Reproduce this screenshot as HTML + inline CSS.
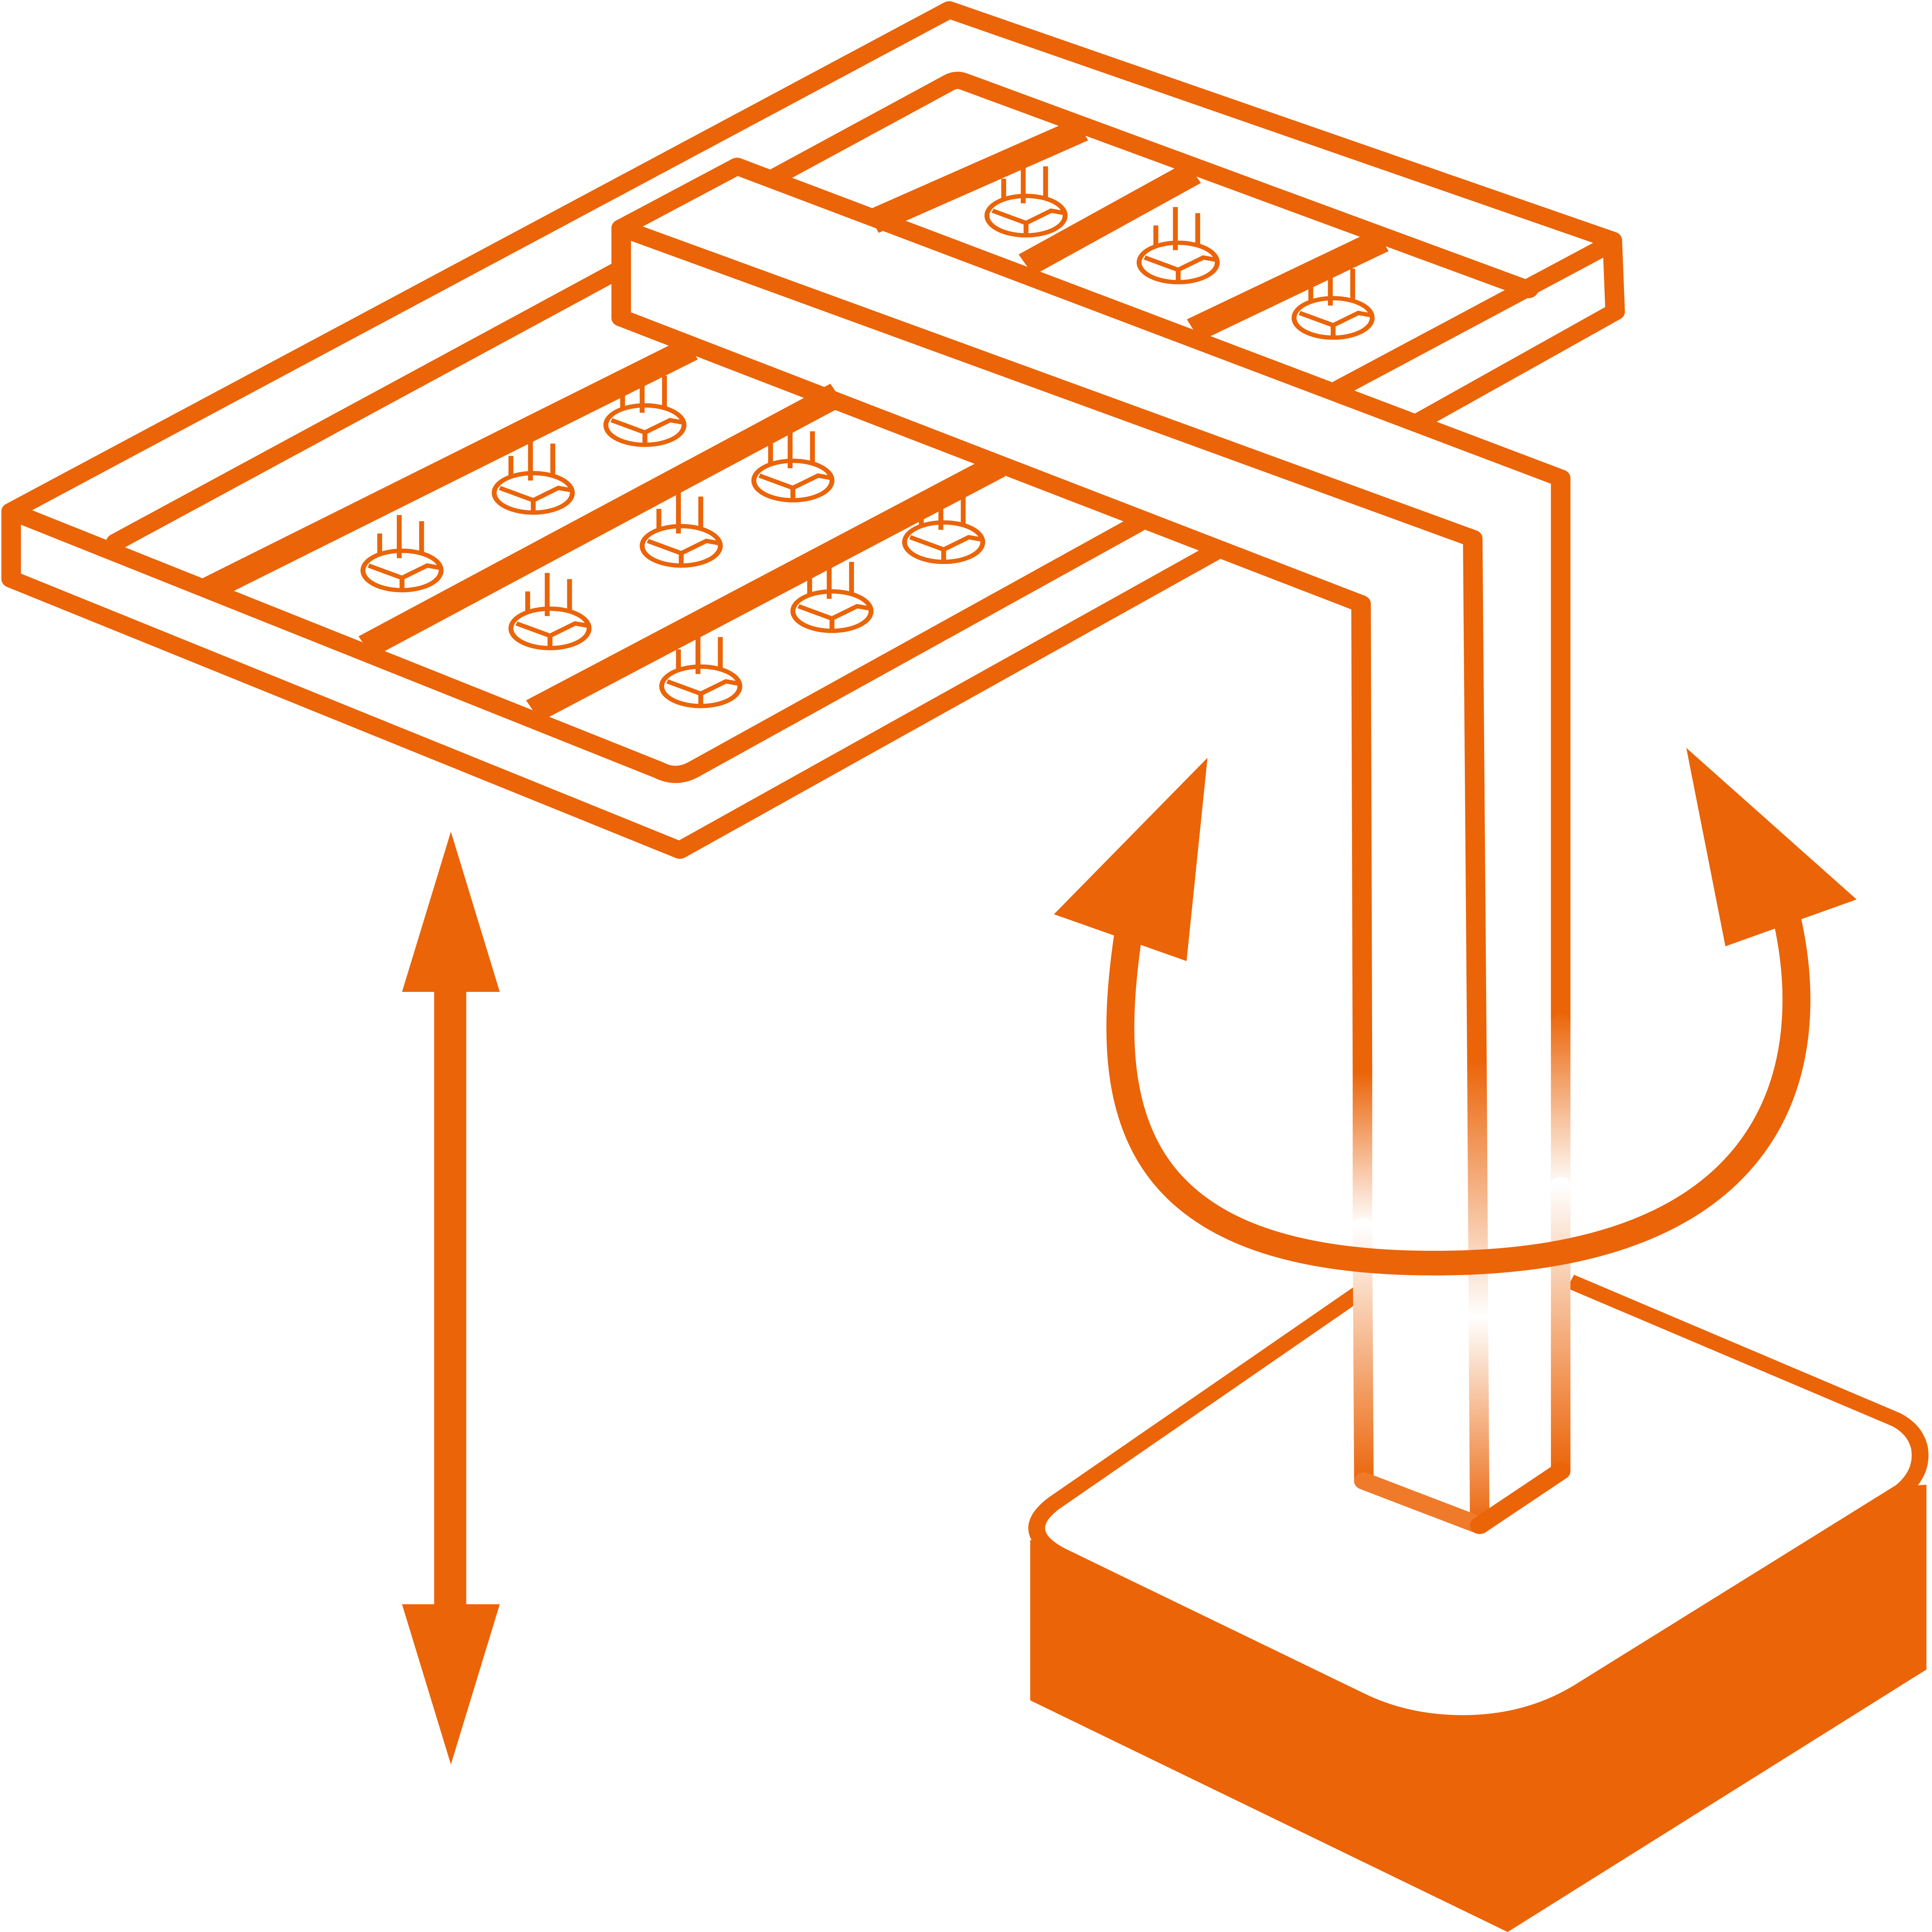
<!DOCTYPE html>
<html><head><meta charset="utf-8"><style>
html,body{margin:0;padding:0;background:#fff;width:100%;height:100%;overflow:hidden;}
svg{display:block;position:absolute;left:0;top:0;width:100vw;height:100vh;}
</style></head><body>
<svg viewBox="0 0 1384 1568" preserveAspectRatio="none" xmlns="http://www.w3.org/2000/svg">
<defs>
<linearGradient id="gL1" gradientUnits="userSpaceOnUse" x1="0" y1="870" x2="0" y2="995"><stop offset="0" stop-color="#EB6408"/><stop offset="1" stop-color="#fff"/></linearGradient>
<linearGradient id="gL2" gradientUnits="userSpaceOnUse" x1="0" y1="995" x2="0" y2="1205"><stop offset="0" stop-color="#fff"/><stop offset="1" stop-color="#EB6408"/></linearGradient>
<linearGradient id="gM" gradientUnits="userSpaceOnUse" x1="0" y1="860" x2="0" y2="1240"><stop offset="0" stop-color="#EB6408"/><stop offset="0.55" stop-color="#fff"/><stop offset="1" stop-color="#EB6408"/></linearGradient>
<linearGradient id="gR1" gradientUnits="userSpaceOnUse" x1="0" y1="820" x2="0" y2="965"><stop offset="0" stop-color="#EB6408"/><stop offset="1" stop-color="#fff"/></linearGradient>
<linearGradient id="gR2" gradientUnits="userSpaceOnUse" x1="0" y1="960" x2="0" y2="1195"><stop offset="0" stop-color="#fff"/><stop offset="1" stop-color="#EB6408"/></linearGradient>
<g id="fx" fill="none" stroke="#EB6408" stroke-width="3.5">
<ellipse cx="0" cy="0" rx="28" ry="16" fill="#fff"/>
<path d="M-16,-12 V-30 M-2,-10 V-45 M14,-14 V-40 M-24,-4 L0,6 L18,-4 L28,-2 M0,6 V16"/>
</g>
</defs>
<path d="M738,1250 L1380,1205 L1380,1355 L1080,1568 L738,1380 Z" fill="#EB6408"/>
<path d="M975,1048 L755,1220 Q728,1243 760,1262 L975,1380 Q1008,1398 1048,1398 Q1095,1398 1132,1372 L1362,1210 Q1378,1195 1375,1175 Q1372,1160 1358,1152 L1125,1040" fill="#fff" stroke="#EB6408" stroke-width="12" stroke-linejoin="round"/>
<g fill="none" stroke="#EB6408" stroke-width="14" stroke-linejoin="round" stroke-linecap="round">
<path d="M8,415 L680,8 L1155,195 L1157,253 L1015,343"/>
<path d="M8,415 L8,470 L487,690 L870,448"/>
<path d="M8,415 L472,625 Q484,632 496,625 L815,425"/>
<path d="M83,440 L445,218"/>
<path d="M1155,197 L955,318"/>
<path d="M553,145 L680,67 Q685,64 690,66 L1095,235"/>
<path d="M445,258 L445,185 L528,135 L1118,388 L1118,830"/>
<path d="M445,185 L1055,437 L1058,860"/>
<path d="M445,258 L975,490 L976,870"/>
</g>
<g fill="none" stroke-width="14" stroke-linecap="round">
<path d="M976,870 L976,995" stroke="url(#gL1)"/>
<path d="M976,995 L977,1200" stroke="url(#gL2)"/>
<path d="M1058,860 L1060,1237" stroke="url(#gM)"/>
<path d="M1118,830 L1118,960" stroke="url(#gR1)"/>
<path d="M1118,962 L1118,1193" stroke="url(#gR2)"/>
<path d="M977,1202 L1060,1238" stroke="#EF7A2A"/>
<path d="M1060,1238 L1118,1194" stroke="#EB6408"/>
</g>
<g stroke="#EB6408" stroke-width="20" stroke-linecap="butt" fill="none">
<path d="M150,478 L495,283"/>
<path d="M262,525 L600,320"/>
<path d="M382,577 L715,378"/>
<path d="M625,180 L775,105"/>
<path d="M735,215 L855,140"/>
<path d="M855,268 L990,195"/>
</g>
<use href="#fx" x="288" y="463"/><use href="#fx" x="382" y="400"/><use href="#fx" x="462" y="345"/>
<use href="#fx" x="394" y="510"/><use href="#fx" x="488" y="443"/><use href="#fx" x="568" y="390"/>
<use href="#fx" x="502" y="557"/><use href="#fx" x="596" y="496"/><use href="#fx" x="676" y="440"/>
<use href="#fx" x="735" y="175"/><use href="#fx" x="844" y="213"/><use href="#fx" x="955" y="258"/>
<rect x="311" y="795" width="23" height="515" fill="#EB6408"/>
<polygon points="288,805 323,675 358,805" fill="#EB6408"/>
<polygon points="288,1302 358,1302 323,1432" fill="#EB6408"/>
<path d="M808,760 C790,900 805,1030 1040,1025 C1270,1020 1305,870 1280,745" fill="none" stroke="#EB6408" stroke-width="20"/>
<polygon points="755,742 865,615 850,780" fill="#EB6408"/>
<polygon points="1208,607 1330,730 1236,768" fill="#EB6408"/>
</svg>
</body></html>
